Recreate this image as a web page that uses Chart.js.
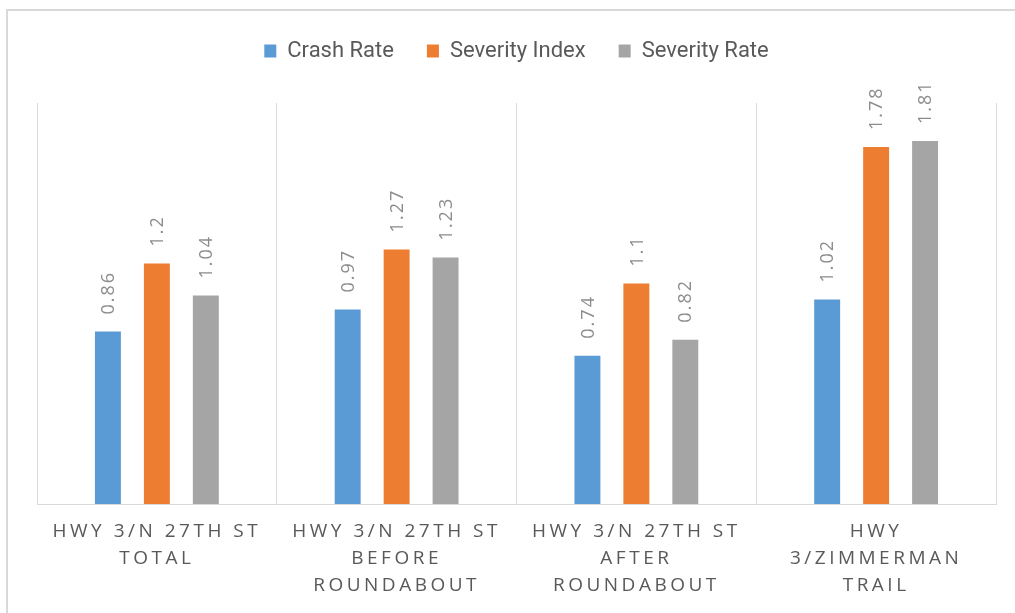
<!DOCTYPE html>
<html lang="en">
<head>
    <meta charset="UTF-8">
    <title>Crash and Severity Rates</title>
    <style>
        html, body { margin: 0; padding: 0; background: #fff; }
        .frame {
            position: absolute;
            left: 6px; top: 9px;
            width: 1020px; height: 620px;
            border-left: 2px solid #d9d9d9;
            border-top: 2px solid #d9d9d9;
        }
        .wrap { position: absolute; left: 0; top: 0; width: 1015px; height: 613px; }
    </style>
</head>
<body>
    <div class="frame"></div>
    <div class="wrap"><canvas id="chartBar"></canvas></div>

<script src="https://cdn.jsdelivr.net/npm/chart.js"></script>
<script>
// data
const categories = [
    ['HWY 3/N 27TH ST', 'TOTAL'],
    ['HWY 3/N 27TH ST', 'BEFORE', 'ROUNDABOUT'],
    ['HWY 3/N 27TH ST', 'AFTER', 'ROUNDABOUT'],
    ['HWY', '3/ZIMMERMAN', 'TRAIL']
]
const crashRate = [0.86, 0.97, 0.74, 1.02]
const severityIndex = [1.2, 1.27, 1.1, 1.78]
const severityRate = [1.04, 1.23, 0.82, 1.81]

const legendFont = "'Roboto', sans-serif"
const labelFont = "'Open Sans', 'Noto Sans', sans-serif"

// rotated value labels above each bar
const barLabels = {
    id: 'barLabels',
    afterDatasetsDraw(chart) {
        const ctx = chart.ctx
        chart.data.datasets.forEach((ds, i) => {
            const meta = chart.getDatasetMeta(i)
            meta.data.forEach((bar, j) => {
                ctx.save()
                ctx.translate(bar.x, bar.y - 17)
                ctx.rotate(-Math.PI / 2)
                ctx.font = "18px " + labelFont
                ctx.letterSpacing = '2px'
                ctx.fillStyle = '#8c8c8c'
                ctx.textAlign = 'left'
                ctx.textBaseline = 'middle'
                ctx.fillText(String(ds.data[j]), 0, 1)
                ctx.restore()
            })
        })
    }
}

// spaced out category labels + some room under the legend
const layoutTweaks = {
    id: 'layoutTweaks',
    beforeLayout(chart) {
        const lg = chart.legend
        if (lg && !lg._tweaked) {
            const fit = lg.fit
            lg.fit = function () {
                fit.call(this)
                this.height += 31
            }
            lg._tweaked = true
        }
    },
    afterLayout(chart) {
        const xs = chart.scales.x
        if (xs._spaced) return
        const orig = xs.drawLabels
        xs.drawLabels = function (area) {
            chart.ctx.save()
            chart.ctx.letterSpacing = '3.5px'
            orig.call(this, area)
            chart.ctx.restore()
        }
        xs._spaced = true
    }
}

const dataBarChart = {
    labels: categories,
    datasets: [
        { label: 'Crash Rate', backgroundColor: '#5b9bd5', data: crashRate },
        { label: 'Severity Index', backgroundColor: '#ed7d31', data: severityIndex },
        { label: 'Severity Rate', backgroundColor: '#a5a5a5', data: severityRate }
    ]
}

const configBarChart = {
    type: 'bar',
    data: dataBarChart,
    plugins: [barLabels, layoutTweaks],
    options: {
        responsive: true,
        maintainAspectRatio: false,
        animation: false,
        layout: { padding: { left: 37, right: 19, top: 7, bottom: 0 } },
        datasets: {
            bar: { categoryPercentage: 0.6125, barPercentage: 0.53 }
        },
        plugins: {
            tooltip: { enabled: false },
            legend: {
                position: 'top',
                labels: {
                    font: { family: legendFont, size: 22 },
                    color: '#595959',
                    boxWidth: 12,
                    boxHeight: 13,
                    padding: 33
                }
            }
        },
        scales: {
            x: {
                grid: { color: '#d9d9d9', drawTicks: false },
                border: { color: '#d9d9d9' },
                ticks: {
                    color: '#595959',
                    font: { family: labelFont, size: 19, lineHeight: 1.42 },
                    maxRotation: 0,
                    autoSkip: false,
                    padding: 14
                }
            },
            y: {
                display: false,
                min: 0,
                max: 2
            }
        }
    }
}

new Chart(document.getElementById('chartBar'), configBarChart)
</script>
</body>
</html>
